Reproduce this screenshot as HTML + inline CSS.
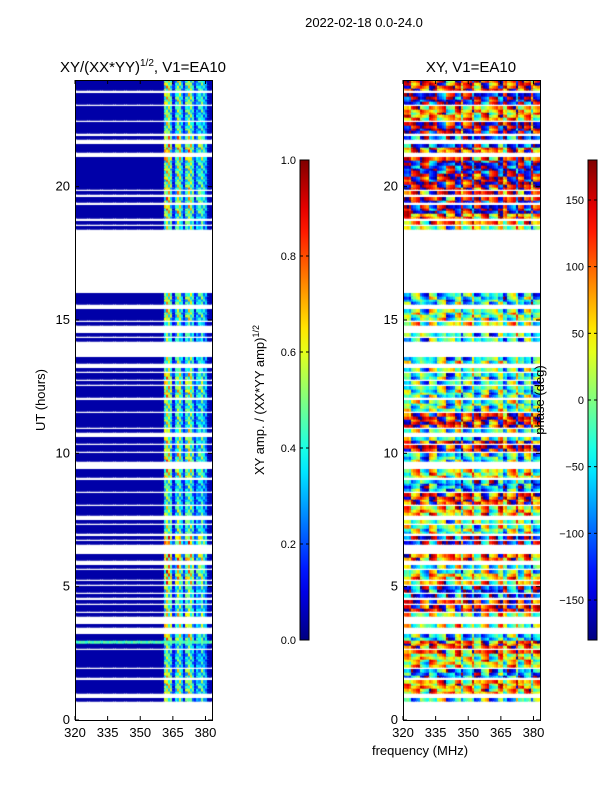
<!DOCTYPE html>
<html><head><meta charset="utf-8">
<style>
body{margin:0;background:#fff;width:600px;height:800px;overflow:hidden;font-family:"Liberation Sans","DejaVu Sans",sans-serif;}
#wrap{position:relative;width:600px;height:800px;}
canvas{position:absolute;}
svg{position:absolute;left:0;top:0;}
</style></head>
<body>
<div id="wrap">
<canvas id="cAmp" width="137" height="640" style="left:75px;top:80px"></canvas>
<canvas id="cPh" width="137" height="640" style="left:403px;top:80px"></canvas>
<svg id="ax" width="600" height="800"></svg>
</div>
<script>
// ---- data ----
const freqTicks=[320,335,350,365,380];
const utTicks=[0,5,10,15,20];
const ampTicks=[0.0,0.2,0.4,0.6,0.8,1.0];
const phaseTicks=[-150,-100,-50,0,50,100,150];
const flagRanges=[[23.55,23.65],[23.05,23.15],[22.45,22.55],[21.9,22.05],[21.6,21.8],[21.25,21.35],[21.15,21.22],
[19.85,19.95],[19.6,19.7],[19.35,19.45],[18.7,18.8],[18.55,18.65],[16.0,18.45],[15.55,15.65],[15.4,15.5],
[14.95,15.05],[14.75,14.85],[14.5,14.7],[14.3,14.4],[14.15,14.25],[13.6,14.1],[13.35,13.45],[13.25,13.32],[13.05,13.15],
[12.75,12.85],[12.55,12.65],[12.0,12.1],[11.5,11.65],[10.95,11.05],[10.75,10.85],[10.6,10.7],[10.35,10.45],[10.05,10.15],
[9.55,9.75],[9.4,9.5],[9.05,9.15],[8.5,8.6],[8.05,8.15],[7.65,7.75],[7.55,7.62],[7.35,7.45],[6.9,7.0],[6.7,6.8],[6.55,6.65],
[6.25,6.5],[5.95,6.05],[5.85,5.92],[5.6,5.7],[5.25,5.35],[5.05,5.15],[4.75,4.85],[4.5,4.6],[4.35,4.45],[4.0,4.1],[3.85,3.95],
[3.65,3.8],[3.45,3.55],[3.35,3.42],[3.25,3.32],[2.6,2.75],[1.95,2.05],[1.5,1.6],[0.95,1.05],[0.8,0.9],[0.65,0.75],[0.5,0.6],[0,0.5]];
const cyanRanges=[[2.95,3.05]];
const chanProfile=[0.04,0.04,0.04,0.04,0.04,0.04,0.04,0.04,0.04,0.04,0.04,0.04,0.04,0.04,0.04,0.04,0.04,0.04,0.04,0.04,
0.04,0.04,0.04,0.04,0.04,0.04,0.04,0.04,0.04,0.04,0.04,0.04,0.04,0.04,0.04,0.04,0.04,0.04,0.04,0.04,0.05,
0.45,0.55,0.5,0.4,0.12,0.35,0.5,0.45,0.3,0.12,0.4,0.5,0.45,0.35,0.12,0.3,0.35,0.4,0.3,0.25,0.05,0.05];
const hourGain=[1.0,1.1,0.9,1.2,1.0,1.3,1.4,1.0,0.9,1.2,1.1,1.0,1.2,1.0,0.9,1.1,1,1,1.0,1.2,1.1,1.3,1.0,1.1];
const ampTex=[1.0,0.7,1.25,0.9,1.1,0.6,1.3];
const rowPhase=[20,-40,60,-90,30,100,-60,10,140,-120,40,-30,90,-150,-10,50,120,-80,20,-40,150,-30,140,-20,
-30,-40,-10,-50,-40,20,-10,-50,0,0,0,0,0,80,-170,130,160,-150,100,-120,170,60,-160,120];
const colPhase=[0,30,60,-20,-60,10,80,120,40,-30,-90,-140,170,120,60,0,-50,20,90,150,-170,-110,-60,-10,40,100,160,-150,-90,-40,10,70,130,-170,-120,-60,0,50,110,170,-140,-80,-30,20,80,140,-160,-100,-50,0,60,120,180,-130,-70,-20,30,90,150,-160,-110,-60,-10];
const phTex=[0,40,-30,70,-60,20,-80,50,-10,90,-40];
// ---- scales ----
const F0=320,F1=383,T0=0,T1=24;
const LX=75,RX=403,PW=137,PT=80,PB=720;
const fx=(f,x0)=>x0+(f-F0)/(F1-F0)*PW;
const ty=t=>PB-(t-T0)/(T1-T0)*(PB-PT);
function jet(v){v=Math.max(0,Math.min(1,v));const c=x=>Math.round(255*Math.max(0,Math.min(1,1.5-Math.abs(x))));return `rgb(${c(4*v-3)},${c(4*v-2)},${c(4*v-1)})`;}
const inR=(h,rs)=>rs.some(r=>h>=r[0]&&h<r[1]);
const NR=240,dt=0.1;
const ca=document.getElementById('cAmp').getContext('2d');
const cp=document.getElementById('cPh').getContext('2d');
for(let r=0;r<NR;r++){
  const h=(r+0.5)*dt;
  if(inR(h,flagRanges))continue;
  const y0=ty(r*dt+dt)-PT,y1=ty(r*dt)-PT;
  for(let c=0;c<chanProfile.length;c++){
    const f=F0+c;
    const xa=fx(f,0),xb=fx(f+1,0);
    let a;
    if(inR(h,cyanRanges))a=0.35+0.1*ampTex[c%7];
    else a=chanProfile[c]>0.1?chanProfile[c]*hourGain[Math.floor(h)]*ampTex[(r+c)%7]:chanProfile[c];
    ca.fillStyle=jet(a);ca.fillRect(Math.floor(xa),Math.floor(y0),Math.ceil(xb-xa)+1,Math.ceil(y1-y0)+0.5);
    let p=rowPhase[Math.floor(r/5)]+colPhase[c]*0.35+phTex[(r*7+Math.floor(c/4))%11];
    p=((p+180)%360+360)%360-180;
    cp.fillStyle=jet((p+180)/360);cp.fillRect(Math.floor(xa),Math.floor(y0),Math.ceil(xb-xa)+1,Math.ceil(y1-y0)+0.5);
  }
}
// ---- axes ----
const svg=document.getElementById('ax');const NS='http://www.w3.org/2000/svg';
function el(tag,attrs,txt){const e=document.createElementNS(NS,tag);for(const k in attrs)e.setAttribute(k,attrs[k]);if(txt!==undefined)e.textContent=txt;svg.appendChild(e);return e;}
const defs=el('defs',{});
const g=document.createElementNS(NS,'linearGradient');g.setAttribute('id','jetg');g.setAttribute('x1','0');g.setAttribute('y1','1');g.setAttribute('x2','0');g.setAttribute('y2','0');
for(let i=0;i<=20;i++){const s=document.createElementNS(NS,'stop');s.setAttribute('offset',i/20);s.setAttribute('stop-color',jet(i/20));g.appendChild(s);}
defs.appendChild(g);
function panel(x0,name){
  const fr=el('rect',{x:x0+0.5,y:PT+0.5,width:PW,height:PB-PT,fill:'none',stroke:'#000','stroke-width':1});
  
  freqTicks.forEach(f=>{const x=fx(f,x0);
    el('line',{x1:x,x2:x,y1:PB,y2:PB-4,stroke:'#000'});el('line',{x1:x,x2:x,y1:PT,y2:PT+4,stroke:'#000'});
    const t=el('text',{x:x,y:PB+17,'font-size':13,'text-anchor':'middle'},f);
    });
  utTicks.forEach(u=>{const y=ty(u);
    el('line',{x1:x0,x2:x0+4,y1:y,y2:y,stroke:'#000'});el('line',{x1:x0+PW,x2:x0+PW-4,y1:y,y2:y,stroke:'#000'});
    const t=el('text',{x:x0-5,y:y+4,'font-size':13,'text-anchor':'end'},u);
    });
}
panel(LX,'amp-panel');panel(RX,'phase-panel');
function cbar(x,name,ticks,lo,hi,fmt){
  const r=el('rect',{x:x,y:160,width:9,height:480,fill:'url(#jetg)',stroke:'#000','stroke-width':1});
  
  ticks.forEach(v=>{const y=640-(v-lo)/(hi-lo)*480;
    el('line',{x1:x,x2:x+3,y1:y,y2:y,stroke:'#000'});el('line',{x1:x+9,x2:x+6,y1:y,y2:y,stroke:'#000'});
    const t=el('text',{x:x-4,y:y+4,'font-size':11,'text-anchor':'end'},fmt(v));
    });
}
cbar(300,'amp-colorbar',ampTicks,0,1,v=>v.toFixed(1));
cbar(588,'phase-colorbar',phaseTicks,-180,180,v=>v<0?'\u2212'+(-v):''+v);
function txt(attrs,s,name){const t=el('text',attrs,s);return t;}
txt({x:364,y:27,'font-size':13,'text-anchor':'middle'},'2022-02-18 0.0-24.0','figure-title');
const lt=txt({x:143,y:72,'font-size':15,'text-anchor':'middle'},'','amp-panel-title');
lt.innerHTML='XY/(XX*YY)<tspan dy="-6" font-size="10">1/2</tspan><tspan dy="6">, V1=EA10</tspan>';
txt({x:471,y:72,'font-size':15,'text-anchor':'middle'},'XY, V1=EA10','phase-panel-title');
txt({x:420,y:755,'font-size':13,'text-anchor':'middle'},'frequency (MHz)','x-axis-title');
txt({x:45,y:400,'font-size':13,'text-anchor':'middle',transform:'rotate(-90 45 400)'},'UT (hours)','y-axis-title');
const cl=txt({x:264,y:400,'font-size':13,'text-anchor':'middle',transform:'rotate(-90 264 400)'},'','amp-colorbar-label');
cl.innerHTML='XY amp. / (XX*YY amp)<tspan dy="-5" font-size="9">1/2</tspan>';
txt({x:544,y:400,'font-size':13,'text-anchor':'middle',transform:'rotate(-90 544 400)'},'phase (deg)','phase-colorbar-label');
</script>
</body></html>
